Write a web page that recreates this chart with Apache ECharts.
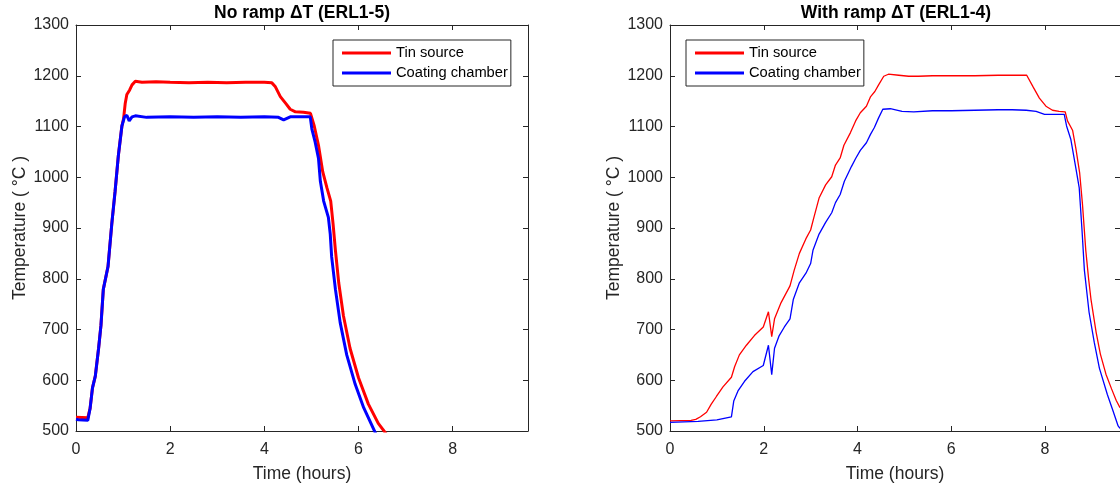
<!DOCTYPE html>
<html>
<head>
<meta charset="utf-8">
<script src="https://cdn.jsdelivr.net/npm/echarts@6/dist/echarts.min.js"></script>
<style>
html,body{margin:0;padding:0;background:#fff;}
#chart{width:1120px;height:488px;}
</style>
</head>
<body>
<div id="chart"></div>
<script>
// ---- Data ----
const xTicks = [0, 2, 4, 6, 8];
const yTicks = [500, 600, 700, 800, 900, 1000, 1100, 1200, 1300];
const seriesNames = ['Tin source', 'Coating chamber'];
const titles = ['No ramp \u0394T (ERL1-5)', 'With ramp \u0394T (ERL1-4)'];

// Left panel: No ramp (ERL1-5)
const leftTinTime = [0, 0.25, 0.30, 0.35, 0.41, 0.48, 0.53, 0.58, 0.68, 0.76, 0.83, 0.90, 0.975, 1.01, 1.046, 1.08, 1.14, 1.19, 1.26, 1.4, 1.7, 2.0, 2.4, 2.8, 3.2, 3.6, 4.0, 4.16, 4.23, 4.34, 4.45, 4.55, 4.66, 4.83, 4.98, 5.06, 5.15, 5.24, 5.33, 5.41, 5.46, 5.51, 5.58, 5.68, 5.82, 6.0, 6.21, 6.42, 6.6];
const leftTinTemp = [527, 526, 545, 585, 608, 663, 708, 779, 824, 908, 972, 1043, 1101, 1115, 1146, 1163, 1172, 1182, 1189, 1187, 1188, 1187, 1186, 1187, 1186, 1187, 1187, 1186, 1179, 1159, 1146, 1134, 1129, 1128, 1126, 1101, 1063, 1011, 979, 953, 908, 856, 792, 727, 663, 605, 553, 515, 493];
const leftChamberTime = [0, 0.05, 0.25, 0.30, 0.35, 0.41, 0.48, 0.53, 0.58, 0.68, 0.76, 0.83, 0.90, 0.975, 1.03, 1.08, 1.13, 1.19, 1.26, 1.5, 2.0, 2.5, 3.0, 3.5, 4.0, 4.3, 4.41, 4.55, 4.975, 5.01, 5.08, 5.15, 5.19, 5.26, 5.36, 5.40, 5.43, 5.51, 5.61, 5.75, 5.93, 6.11, 6.37];
const leftChamberTemp = [523, 522, 521, 545, 585, 608, 663, 708, 779, 824, 908, 972, 1043, 1101, 1119, 1122, 1111, 1119, 1121, 1118, 1119, 1118, 1119, 1118, 1119, 1118, 1113, 1119, 1119, 1095, 1069, 1037, 992, 953, 921, 888, 843, 779, 714, 650, 592, 546, 494];

// Right panel: With ramp (ERL1-4)
const rightTinTime = [0, 0.45, 0.55, 0.65, 0.78, 0.88, 0.99, 1.13, 1.31, 1.38, 1.48, 1.63, 1.80, 1.99, 2.10, 2.17, 2.23, 2.37, 2.56, 2.65, 2.76, 2.90, 3.00, 3.07, 3.18, 3.32, 3.45, 3.53, 3.63, 3.71, 3.85, 3.96, 4.06, 4.19, 4.28, 4.37, 4.45, 4.56, 4.66, 4.88, 5.09, 5.3, 5.6, 6.0, 6.5, 7.0, 7.3, 7.61, 7.74, 7.88, 8.02, 8.16, 8.30, 8.43, 8.48, 8.59, 8.66, 8.74, 8.80, 8.87, 8.93, 8.98, 9.09, 9.18, 9.30, 9.42, 9.52, 9.6];
const rightTinTemp = [520, 521, 523, 528, 537, 553, 568, 587, 606, 627, 650, 669, 688, 705, 735, 686, 721, 753, 786, 817, 850, 879, 896, 921, 959, 985, 1001, 1024, 1038, 1063, 1088, 1111, 1127, 1140, 1159, 1169, 1182, 1199, 1203, 1201, 1199, 1199, 1200, 1200, 1200, 1201, 1201, 1201, 1179, 1156, 1140, 1132, 1130, 1129, 1111, 1092, 1056, 1008, 946, 856, 800, 760, 695, 652, 612, 583, 560, 546];
const rightChamberTime = [0, 0.6, 1.0, 1.31, 1.36, 1.45, 1.59, 1.77, 1.99, 2.10, 2.17, 2.23, 2.33, 2.44, 2.56, 2.63, 2.76, 2.90, 3.00, 3.05, 3.18, 3.32, 3.45, 3.53, 3.63, 3.72, 3.87, 3.96, 4.06, 4.19, 4.28, 4.36, 4.45, 4.54, 4.70, 4.95, 5.2, 5.6, 6.0, 6.5, 7.0, 7.3, 7.6, 7.81, 7.99, 8.2, 8.41, 8.46, 8.55, 8.66, 8.73, 8.79, 8.84, 8.94, 9.05, 9.16, 9.33, 9.45, 9.56, 9.6];
const rightChamberTemp = [517, 519, 522, 528, 559, 579, 598, 617, 629, 669, 611, 663, 688, 705, 721, 759, 792, 811, 830, 856, 888, 911, 930, 950, 966, 992, 1021, 1037, 1053, 1068, 1085, 1098, 1117, 1134, 1135, 1130, 1129, 1131, 1131, 1132, 1133, 1133, 1132, 1130, 1124, 1124, 1124, 1101, 1075, 1017, 979, 895, 817, 734, 675, 624, 572, 540, 510, 505];

// ---- Build chart ----
const zip = (xs, ys) => xs.map((x, i) => [x, ys[i]]);
const AX = '#262626';
const FONT = '"Liberation Sans", Arial, Helvetica, sans-serif';
const GRID_W = 452, GRID_H = 412, GRID_TOP = 25;
const gridLefts = [76, 670];
const plain = v => String(v);

function xAxisPair(gi) {
  const base = {
    type: 'value', gridIndex: gi, min: xTicks[0], max: 9.6, interval: xTicks[1] - xTicks[0],
    axisLine: { show: true, onZero: false, lineStyle: { color: AX, width: 1 } },
    axisTick: { show: true, inside: true, length: 5, lineStyle: { color: AX } },
    splitLine: { show: false }
  };
  return [
    Object.assign({}, base, {
      position: 'bottom',
      axisLabel: { color: AX, fontSize: 16, fontFamily: FONT, margin: 11, showMaxLabel: false, formatter: plain },
      name: 'Time (hours)', nameLocation: 'middle', nameGap: 34,
      nameTextStyle: { color: AX, fontSize: 17.5, fontFamily: FONT }
    }),
    Object.assign({}, base, { position: 'top', axisLabel: { show: false } })
  ];
}
function yAxisPair(gi) {
  const base = {
    type: 'value', gridIndex: gi, min: yTicks[0], max: yTicks[yTicks.length - 1], interval: yTicks[1] - yTicks[0],
    axisLine: { show: true, onZero: false, lineStyle: { color: AX, width: 1 } },
    axisTick: { show: true, inside: true, length: 5, lineStyle: { color: AX } },
    splitLine: { show: false }
  };
  return [
    Object.assign({}, base, {
      position: 'left',
      axisLabel: { color: AX, fontSize: 16, fontFamily: FONT, margin: 7, formatter: plain },
      name: 'Temperature ( \u00B0C )', nameLocation: 'middle', nameGap: 43,
      nameTextStyle: { color: AX, fontSize: 17.5, fontFamily: FONT }
    }),
    Object.assign({}, base, { position: 'right', axisLabel: { show: false } })
  ];
}

function legendAt(left) {
  return {
    data: seriesNames, orient: 'vertical', left: left, top: 40,
    padding: [5, 3, 5, 9], itemGap: 4, itemWidth: 49, itemHeight: 3, icon: 'rect',
    borderColor: AX, borderWidth: 1, borderRadius: 0, backgroundColor: '#fff',
    selectedMode: false,
    textStyle: { fontSize: 14.7, color: '#000', fontFamily: FONT, lineHeight: 16 }
  };
}

function lineSeries(name, data, color, width, axisIdx) {
  return {
    name: name, type: 'line', data: data, xAxisIndex: axisIdx, yAxisIndex: axisIdx,
    showSymbol: false, symbol: 'none', clip: true,
    lineStyle: { color: color, width: width }, itemStyle: { color: color }
  };
}

const option = {
  animation: false,
  backgroundColor: '#fff',
  grid: gridLefts.map(l => ({ left: l, top: GRID_TOP, width: GRID_W, height: GRID_H, containLabel: false })),
  xAxis: [].concat(xAxisPair(0), xAxisPair(1)),
  yAxis: [].concat(yAxisPair(0), yAxisPair(1)),
  legend: [legendAt(333), legendAt(686)],
  graphic: titles.map((t, i) => ({
    type: 'text', x: gridLefts[i] + GRID_W / 2, y: 13,
    style: { text: t, fill: '#000', font: 'bold 17.5px ' + FONT, align: 'center', verticalAlign: 'middle' }
  })),
  series: [
    lineSeries(seriesNames[0], zip(leftTinTime, leftTinTemp), '#ff0000', 3, 0),
    lineSeries(seriesNames[1], zip(leftChamberTime, leftChamberTemp), '#0000ff', 3, 0),
    lineSeries(seriesNames[0], zip(rightTinTime, rightTinTemp), '#ff0000', 1.3, 2),
    lineSeries(seriesNames[1], zip(rightChamberTime, rightChamberTemp), '#0000ff', 1.3, 2)
  ]
};

const chart = echarts.init(document.getElementById('chart'), null, { renderer: 'canvas' });
chart.setOption(option);
</script>
</body>
</html>
